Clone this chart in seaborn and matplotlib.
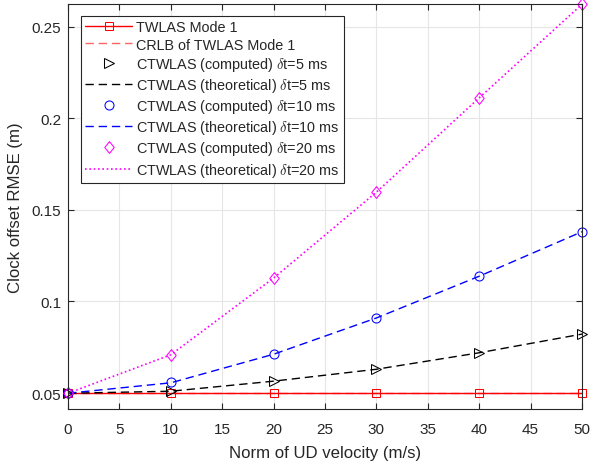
import matplotlib
matplotlib.use("Agg")
import matplotlib.pyplot as plt
import seaborn as sns
import pandas as pd

# UD velocity norm (m/s)
velocity = [0, 10, 20, 30, 40, 50]

# Clock offset RMSE (m)
twlas_mode1 = [0.0499, 0.0499, 0.0499, 0.0499, 0.0499, 0.0499]
crlb_twlas_mode1 = [0.0499, 0.0499, 0.0499, 0.0499, 0.0499, 0.0499]
ctwlas_comp_5 = [0.0499, 0.0513, 0.0567, 0.0631, 0.0719, 0.0822]
ctwlas_theo_5 = [0.0499, 0.0510, 0.0565, 0.0630, 0.0720, 0.0822]
ctwlas_comp_10 = [0.0499, 0.0558, 0.0713, 0.0910, 0.1138, 0.1381]
ctwlas_theo_10 = [0.0499, 0.0556, 0.0712, 0.0910, 0.1138, 0.1381]
ctwlas_comp_20 = [0.0499, 0.0709, 0.1128, 0.1597, 0.2112, 0.2623]
ctwlas_theo_20 = [0.0499, 0.0709, 0.1128, 0.1597, 0.2112, 0.2623]

sns.set_style("whitegrid")
plt.rcParams["font.family"] = ["Liberation Sans", "DejaVu Sans"]
plt.rcParams["mathtext.fontset"] = "cm"

fig = plt.figure(figsize=(5.92, 4.64), dpi=100)
ax = fig.add_axes([0.1149, 0.1164, 0.8682, 0.8722])

diamond = [(0, 1), (0.8, 0), (0, -1), (-0.8, 0), (0, 1)]
dash = (0, (6, 3.5))

series = [
    ("TWLAS Mode 1", twlas_mode1, dict(color="#ff0000", linestyle="-", marker="s",
                                       markersize=5.5, markerfacecolor="none",
                                       markeredgecolor="#ff0000", linewidth=1.0)),
    ("CRLB of TWLAS Mode 1", crlb_twlas_mode1, dict(color="#ff3030", linestyle=dash,
                                                  linewidth=1.0, alpha=0.75)),
    (r"CTWLAS (computed) $\delta$t=5 ms", ctwlas_comp_5, dict(color="black", linestyle="none",
                                                          marker=">", markersize=7,
                                                          markerfacecolor="none",
                                                          markeredgecolor="black")),
    (r"CTWLAS (theoretical) $\delta$t=5 ms", ctwlas_theo_5, dict(color="black", linestyle=dash,
                                                             linewidth=1.0)),
    (r"CTWLAS (computed) $\delta$t=10 ms", ctwlas_comp_10, dict(color="#0000ff", linestyle="none",
                                                            marker="o", markersize=6.5,
                                                            markerfacecolor="none",
                                                            markeredgecolor="#0000ff")),
    (r"CTWLAS (theoretical) $\delta$t=10 ms", ctwlas_theo_10, dict(color="#0000ff", linestyle=dash,
                                                               linewidth=1.0)),
    (r"CTWLAS (computed) $\delta$t=20 ms", ctwlas_comp_20, dict(color="#ff00ff", linestyle="none",
                                                            marker=diamond, markersize=8.5,
                                                            markerfacecolor="none",
                                                            markeredgecolor="#ff00ff")),
    (r"CTWLAS (theoretical) $\delta$t=20 ms", ctwlas_theo_20, dict(color="#ff00ff", linestyle=(0, (1, 1.6)),
                                                               linewidth=1.2)),
]

# lines first, markers on top
order = [1, 0, 3, 5, 7, 2, 4, 6]
handles = {}
for i in order:
    label, vals, kw = series[i]
    df = pd.DataFrame({"v": velocity, "rmse": vals})
    kw = dict(kw)
    marker = kw.pop("marker", None)
    ls = kw.pop("linestyle")
    sns.lineplot(data=df, x="v", y="rmse", ax=ax, label=label, marker=marker,
                 linestyle=ls if ls != "none" else "", clip_on=False, **kw)
    handles[i] = ax.get_lines()[-1]

for i in [2, 4, 6]:
    handles[i].set_linestyle("none")

ax.set_xlim(0, 50)
ax.set_ylim(0.0413, 0.2623)
ax.set_xticks(range(0, 51, 5))
ax.set_yticks([0.05, 0.1, 0.15, 0.2, 0.25])
ax.set_yticklabels(["0.05", "0.1", "0.15", "0.2", "0.25"])
ax.set_xlabel("Norm of UD velocity (m/s)", fontsize=12.1, labelpad=6, color="#262626")
ax.set_ylabel("Clock offset RMSE (m)", fontsize=12.1, labelpad=6, color="#262626")
ax.tick_params(axis="both", labelsize=11, direction="in", length=4, color="#262626",
               left=True, bottom=True, right=True, top=True, labelcolor="#262626")
ax.tick_params(axis="x", pad=9.5)
ax.tick_params(axis="y", pad=5)
ax.grid(True, color="#e6e6e6", linewidth=0.8)
for sp in ax.spines.values():
    sp.set_edgecolor("#262626")
    sp.set_linewidth(0.8)

leg = ax.legend([handles[i] for i in range(8)], [s[0] for s in series],
                loc="upper left", bbox_to_anchor=(0.0247, 0.971), borderaxespad=0,
                fontsize=10.4, handlelength=3.26, labelspacing=0.22, borderpad=0.3,
                handletextpad=0.3, frameon=True, fancybox=False, framealpha=1)
leg.get_frame().set_edgecolor("#262626")
leg.get_frame().set_linewidth(0.8)

fig.savefig("out.png", dpi=100)
